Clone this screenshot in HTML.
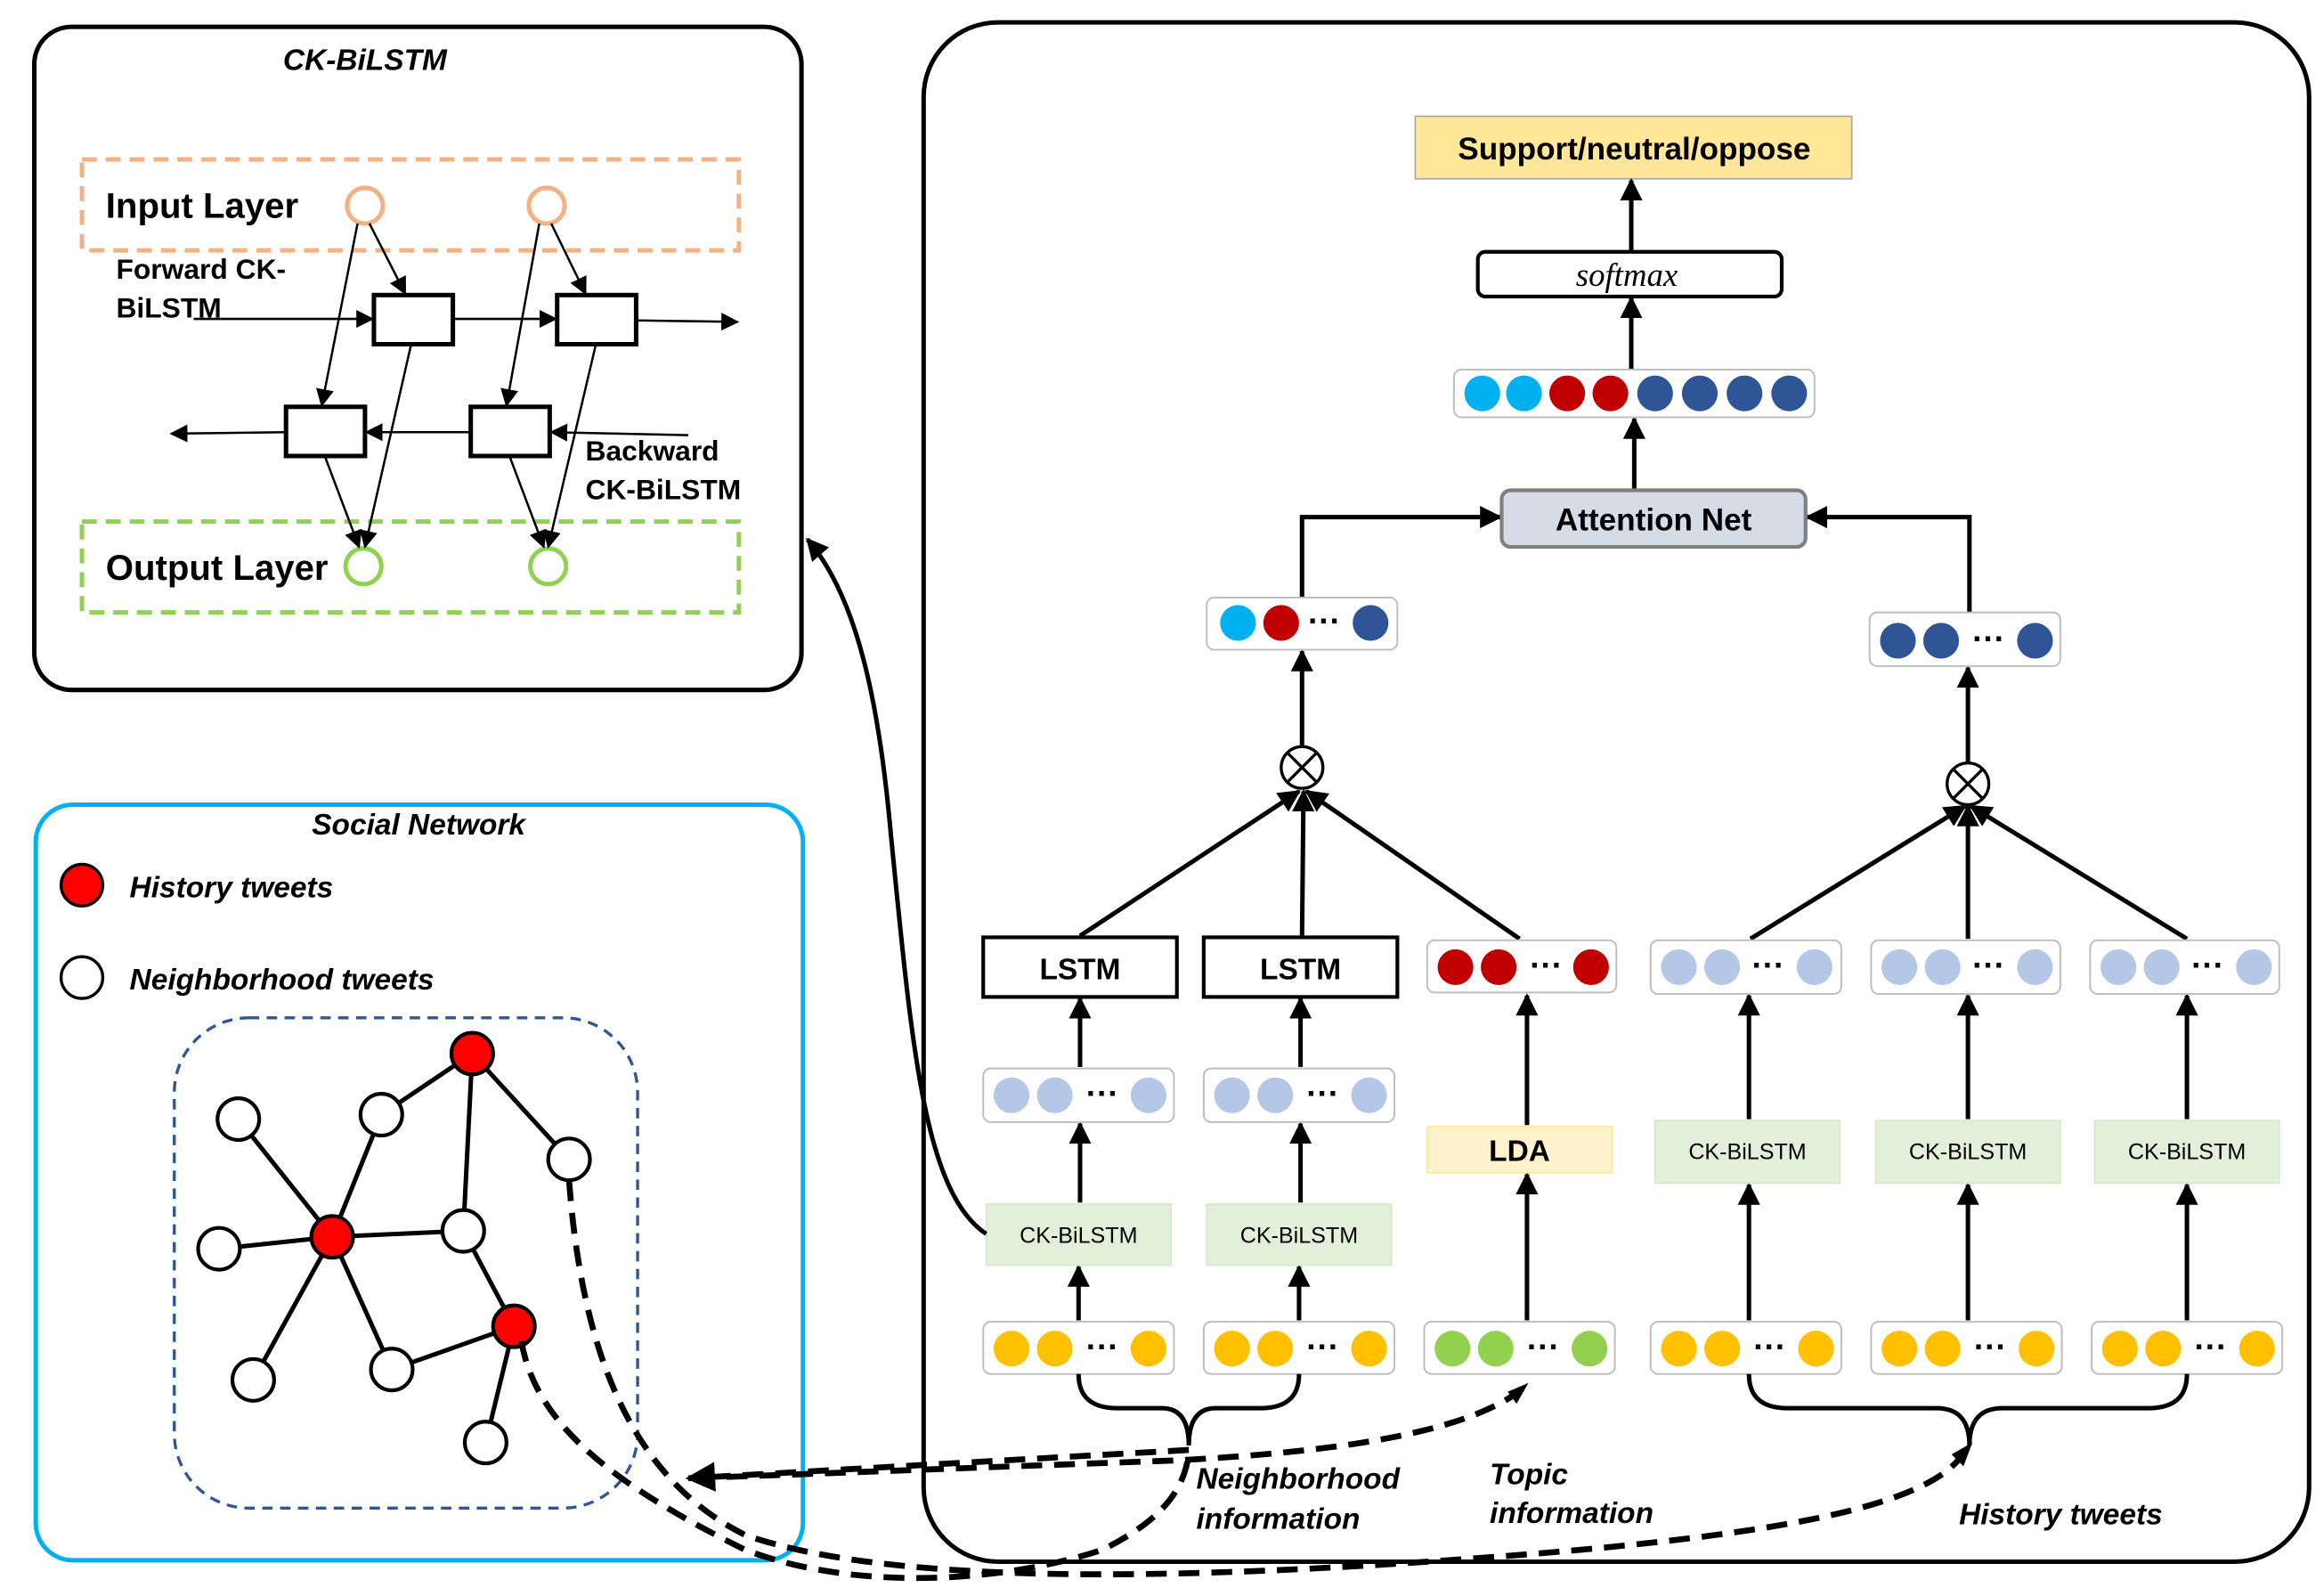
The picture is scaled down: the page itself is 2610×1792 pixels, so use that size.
<!DOCTYPE html>
<html><head><meta charset="utf-8"><style>
html,body{margin:0;padding:0;background:#fff}
svg{display:block}
text{font-family:"Liberation Sans",sans-serif}
</style></head><body>
<svg width="2610" height="1792" viewBox="0 0 1560 1071" preserveAspectRatio="none" xmlns="http://www.w3.org/2000/svg">
<defs>
<marker id="a" viewBox="0 0 10 10" refX="9" refY="5" markerWidth="5" markerHeight="5" orient="auto-start-reverse"><path d="M0,0L10,5L0,10z" fill="#000"/></marker>
<marker id="s" viewBox="0 0 10 10" refX="9" refY="5" markerWidth="8" markerHeight="8" orient="auto"><path d="M0,0L10,5L0,10z" fill="#000"/></marker>
</defs>
<!-- CK-BiLSTM box -->
<rect x="23" y="18" width="515" height="445" rx="25" fill="none" stroke="#000" stroke-width="3"/>
<text x="245" y="47" font-size="20" font-style="italic" font-weight="bold" text-anchor="middle">CK-BiLSTM</text>
<rect x="55" y="107" width="441" height="61" fill="none" stroke="#f4b183" stroke-width="3" stroke-dasharray="10 6"/>
<text x="71" y="146" font-size="24" font-weight="bold">Input Layer</text>
<circle cx="245" cy="138" r="12" fill="none" stroke="#f4b183" stroke-width="3"/>
<circle cx="367" cy="138" r="12" fill="none" stroke="#f4b183" stroke-width="3"/>
<text x="78" y="187" font-size="19" font-weight="bold">Forward CK-</text>
<text x="78" y="213" font-size="19" font-weight="bold">BiLSTM</text>
<text x="393" y="309" font-size="19" font-weight="bold">Backward</text>
<text x="393" y="335" font-size="19" font-weight="bold">CK-BiLSTM</text>
<rect x="55" y="350" width="441" height="61" fill="none" stroke="#92d050" stroke-width="3" stroke-dasharray="10 6"/>
<text x="71" y="389" font-size="24" font-weight="bold">Output Layer</text>
<circle cx="244" cy="380" r="12" fill="none" stroke="#92d050" stroke-width="3"/>
<circle cx="368" cy="380" r="12" fill="none" stroke="#92d050" stroke-width="3"/>
<g stroke="#000" stroke-width="1.5" fill="none" marker-end="url(#s)">
<line x1="130" y1="214" x2="250" y2="214"/><line x1="304" y1="214" x2="373" y2="214"/><line x1="427" y1="215" x2="495" y2="216"/>
<line x1="462" y1="292" x2="370" y2="290"/><line x1="316" y1="290" x2="246" y2="290"/><line x1="192" y1="290" x2="115" y2="291"/>
<line x1="240" y1="150" x2="216" y2="272"/><line x1="248" y1="150" x2="272" y2="197"/>
<line x1="362" y1="150" x2="340" y2="272"/><line x1="370" y1="150" x2="393" y2="197"/>
<line x1="276" y1="231" x2="245" y2="367"/><line x1="400" y1="231" x2="368" y2="367"/>
<line x1="218" y1="306" x2="241" y2="367"/><line x1="342" y1="306" x2="365" y2="367"/>
</g>
<g fill="#fff" stroke="#000" stroke-width="3">
<rect x="251" y="198" width="53" height="33"/><rect x="374" y="198" width="53" height="33"/>
<rect x="192" y="273" width="53" height="33"/><rect x="316" y="273" width="53" height="33"/>
</g>
<!-- Social network -->
<rect x="24" y="540" width="515" height="507" rx="25" fill="none" stroke="#00b0f0" stroke-width="3"/>
<text x="281" y="560" font-size="20" font-style="italic" font-weight="bold" text-anchor="middle">Social Network</text>
<circle cx="55" cy="594" r="14" fill="#f00" stroke="#000" stroke-width="2"/>
<text x="87" y="602" font-size="20" font-style="italic" font-weight="bold">History tweets</text>
<circle cx="55" cy="656" r="14" fill="#fff" stroke="#000" stroke-width="2"/>
<text x="87" y="664" font-size="20" font-style="italic" font-weight="bold">Neighborhood tweets</text>
<rect x="117" y="683" width="311" height="329" rx="50" fill="none" stroke="#2f5597" stroke-width="2" stroke-dasharray="7 5"/>
<g stroke="#000" stroke-width="3">
<line x1="317" y1="707" x2="256" y2="748"/><line x1="317" y1="707" x2="311" y2="826"/><line x1="317" y1="707" x2="382" y2="778"/>
<line x1="223" y1="830" x2="160" y2="751"/><line x1="223" y1="830" x2="256" y2="748"/><line x1="223" y1="830" x2="147" y2="838"/>
<line x1="223" y1="830" x2="311" y2="826"/><line x1="223" y1="830" x2="170" y2="926"/><line x1="223" y1="830" x2="263" y2="919"/>
<line x1="311" y1="826" x2="345" y2="890"/><line x1="345" y1="890" x2="263" y2="919"/><line x1="345" y1="890" x2="326" y2="968"/>
</g>
<g stroke="#000" stroke-width="2.5">
<circle cx="317" cy="707" r="14" fill="#f00"/><circle cx="223" cy="830" r="14" fill="#f00"/><circle cx="345" cy="890" r="14" fill="#f00"/>
<g fill="#fff"><circle cx="160" cy="751" r="14"/><circle cx="256" cy="748" r="14"/><circle cx="382" cy="778" r="14"/><circle cx="147" cy="838" r="14"/><circle cx="311" cy="826" r="14"/><circle cx="170" cy="926" r="14"/><circle cx="263" cy="919" r="14"/><circle cx="326" cy="968" r="14"/></g>
</g>
<!-- Right box -->
<rect x="620" y="15" width="930" height="1033" rx="50" fill="none" stroke="#000" stroke-width="3"/>
<rect x="950" y="78" width="293" height="42" fill="#ffe699" stroke="#a6a6a6"/>
<text x="1097" y="107" font-size="21" font-weight="bold" text-anchor="middle">Support/neutral/oppose</text>
<rect x="992" y="169" width="204" height="30" rx="5" fill="#fff" stroke="#000" stroke-width="2.5"/>
<text x="1092" y="192" font-size="22" font-style="italic" font-family="Liberation Serif" text-anchor="middle" style="font-family:'Liberation Serif',serif">softmax</text>
<g stroke="#000" stroke-width="3" fill="none" marker-end="url(#a)">
<line x1="1095" y1="168" x2="1095" y2="121"/><line x1="1095" y1="248" x2="1095" y2="200"/><line x1="1097" y1="328" x2="1097" y2="281"/>
<polyline points="874,403 874,347 1007,347"/><polyline points="1322,412 1322,347 1213,347"/>
<line x1="874" y1="501" x2="874" y2="437"/><line x1="1321" y1="512" x2="1321" y2="448"/>
<line x1="725" y1="628" x2="872" y2="531"/><line x1="874" y1="628" x2="875" y2="531"/><line x1="1020" y1="630" x2="877" y2="531"/>
<line x1="1175" y1="630" x2="1319" y2="541"/><line x1="1321" y1="630" x2="1321" y2="541"/><line x1="1468" y1="630" x2="1323" y2="541"/>
<line x1="725" y1="716" x2="725" y2="670"/><line x1="873" y1="716" x2="873" y2="670"/>
<line x1="725" y1="807" x2="725" y2="754"/><line x1="873" y1="807" x2="873" y2="754"/>
<line x1="1025" y1="755" x2="1025" y2="668"/><line x1="1174" y1="751" x2="1174" y2="668"/><line x1="1321" y1="751" x2="1321" y2="668"/><line x1="1468" y1="751" x2="1468" y2="668"/>
<line x1="724" y1="886" x2="724" y2="850"/><line x1="872" y1="886" x2="872" y2="850"/><line x1="1025" y1="886" x2="1025" y2="788"/>
<line x1="1174" y1="886" x2="1174" y2="795"/><line x1="1321" y1="886" x2="1321" y2="795"/><line x1="1468" y1="886" x2="1468" y2="795"/>
</g>
<rect x="1008" y="329" width="204" height="38" rx="6" fill="#d6dce5" stroke="#7f7f7f" stroke-width="2.5"/>
<text x="1110" y="356" font-size="21" font-weight="bold" text-anchor="middle">Attention Net</text>
<g stroke="#000" stroke-width="2" fill="#fff">
<circle cx="874" cy="515" r="14"/><circle cx="1321" cy="526" r="14"/>
</g>
<g stroke="#000" stroke-width="2"><path d="M864,505L884,525M884,505L864,525"/><path d="M1311,516L1331,536M1331,516L1311,536"/></g>
<!-- dot rows -->
<g stroke="#bfbfbf" stroke-width="1.2" fill="#fff">
<rect x="976" y="248" width="242" height="32" rx="5"/>
<rect x="810" y="401" width="128" height="35" rx="5"/><rect x="1255" y="411" width="128" height="36" rx="5"/>
<rect x="958" y="631" width="127" height="35" rx="5"/>
<rect x="1108" y="631" width="128" height="36" rx="5"/><rect x="1256" y="631" width="127" height="36" rx="5"/><rect x="1403" y="631" width="127" height="36" rx="5"/>
<rect x="660" y="717" width="128" height="36" rx="5"/><rect x="808" y="717" width="128" height="36" rx="5"/>
<rect x="660" y="887" width="128" height="35" rx="5"/><rect x="808" y="887" width="128" height="35" rx="5"/><rect x="956" y="887" width="128" height="35" rx="5"/>
<rect x="1108" y="887" width="128" height="35" rx="5"/><rect x="1256" y="887" width="128" height="35" rx="5"/><rect x="1404" y="887" width="128" height="35" rx="5"/>
</g>
<g>
<circle cx="995" cy="264" r="12" fill="#00b0f0"/><circle cx="1023" cy="264" r="12" fill="#00b0f0"/><circle cx="1052" cy="264" r="12" fill="#c00000"/><circle cx="1081" cy="264" r="12" fill="#c00000"/>
<circle cx="1111" cy="264" r="12" fill="#2f5597"/><circle cx="1141" cy="264" r="12" fill="#2f5597"/><circle cx="1171" cy="264" r="12" fill="#2f5597"/><circle cx="1201" cy="264" r="12" fill="#2f5597"/>
<circle cx="831" cy="418" r="12" fill="#00b0f0"/><circle cx="860" cy="418" r="12" fill="#c00000"/><circle cx="920" cy="418" r="12" fill="#2f5597"/>
<circle cx="1274" cy="430" r="12" fill="#2f5597"/><circle cx="1303" cy="430" r="12" fill="#2f5597"/><circle cx="1366" cy="430" r="12" fill="#2f5597"/>
<circle cx="977" cy="649" r="12" fill="#c00000"/><circle cx="1006" cy="649" r="12" fill="#c00000"/><circle cx="1068" cy="649" r="12" fill="#c00000"/>
<g fill="#b4c7e7">
<circle cx="1127" cy="649" r="12"/><circle cx="1156" cy="649" r="12"/><circle cx="1218" cy="649" r="12"/>
<circle cx="1275" cy="649" r="12"/><circle cx="1304" cy="649" r="12"/><circle cx="1366" cy="649" r="12"/>
<circle cx="1422" cy="649" r="12"/><circle cx="1451" cy="649" r="12"/><circle cx="1513" cy="649" r="12"/>
<circle cx="679" cy="735" r="12"/><circle cx="708" cy="735" r="12"/><circle cx="771" cy="735" r="12"/>
<circle cx="827" cy="735" r="12"/><circle cx="856" cy="735" r="12"/><circle cx="919" cy="735" r="12"/>
</g>
<g fill="#ffc000">
<circle cx="679" cy="905" r="12"/><circle cx="708" cy="905" r="12"/><circle cx="771" cy="905" r="12"/>
<circle cx="827" cy="905" r="12"/><circle cx="856" cy="905" r="12"/><circle cx="919" cy="905" r="12"/>
<circle cx="1127" cy="905" r="12"/><circle cx="1156" cy="905" r="12"/><circle cx="1219" cy="905" r="12"/>
<circle cx="1275" cy="905" r="12"/><circle cx="1304" cy="905" r="12"/><circle cx="1367" cy="905" r="12"/>
<circle cx="1423" cy="905" r="12"/><circle cx="1452" cy="905" r="12"/><circle cx="1515" cy="905" r="12"/>
</g>
<g fill="#92d050"><circle cx="975" cy="905" r="12"/><circle cx="1004" cy="905" r="12"/><circle cx="1067" cy="905" r="12"/></g>
</g>
<g font-size="22" font-weight="bold" text-anchor="middle">
<text x="889" y="424">···</text><text x="1335" y="436">···</text><text x="1038" y="655">···</text>
<text x="1187" y="655">···</text><text x="1335" y="655">···</text><text x="1482" y="655">···</text>
<text x="740" y="741">···</text><text x="888" y="741">···</text>
<text x="740" y="911">···</text><text x="888" y="911">···</text><text x="1036" y="911">···</text>
<text x="1188" y="911">···</text><text x="1336" y="911">···</text><text x="1484" y="911">···</text>
</g>
<g fill="#fff" stroke="#000" stroke-width="2.5">
<rect x="660" y="629" width="130" height="40"/><rect x="808" y="629" width="130" height="40"/>
</g>
<text x="725" y="657" font-size="20" font-weight="bold" text-anchor="middle">LSTM</text>
<text x="873" y="657" font-size="20" font-weight="bold" text-anchor="middle">LSTM</text>
<rect x="958" y="756" width="124" height="31" fill="#fff2cc" stroke="#ffe699"/>
<text x="1020" y="779" font-size="20" font-weight="bold" text-anchor="middle">LDA</text>
<g fill="#e2f0d9" stroke="#d5e8c8">
<rect x="662" y="808" width="124" height="41"/><rect x="810" y="808" width="124" height="41"/>
<rect x="1111" y="752" width="124" height="42"/><rect x="1259" y="752" width="124" height="42"/><rect x="1406" y="752" width="124" height="42"/>
</g>
<g font-size="15" text-anchor="middle">
<text x="724" y="834">CK-BiLSTM</text><text x="872" y="834">CK-BiLSTM</text>
<text x="1173" y="778">CK-BiLSTM</text><text x="1321" y="778">CK-BiLSTM</text><text x="1468" y="778">CK-BiLSTM</text>
</g>
<!-- braces -->
<g fill="none" stroke="#000" stroke-width="3">
<path d="M724,922 Q724,945 750,945 L780,945 Q798,945 798,970 Q798,945 816,945 L846,945 Q872,945 872,922"/>
<path d="M1174,922 Q1174,945 1200,945 L1300,945 Q1322,945 1322,970 Q1322,945 1344,945 L1442,945 Q1468,945 1468,922"/>
</g>
<!-- dashed -->
<g fill="none" stroke="#000" stroke-width="4" stroke-dasharray="14 8">
<path d="M798,973 L462,992" marker-end="url(#a)"/>
<path d="M1022,932 C980,965 880,975 790,980 C650,985 520,990 462,992"/>
<path d="M382,792 C390,900 420,990 500,1030 C600,1065 800,1060 1000,1045 C1200,1030 1300,1010 1320,972"/>
<path d="M350,900 C360,960 420,1000 500,1040 C580,1070 680,1060 740,1040 C780,1020 795,1000 798,975"/>
</g>
<path d="M1026,928 L1012,934 L1018,942 Z" fill="#000"/>
<path d="M1324,968 L1310,976 L1318,984 Z" fill="#000"/>
<!-- curved arrow -->
<path d="M662,828 C620,800 612,700 598,560 C590,470 575,400 542,362" fill="none" stroke="#000" stroke-width="3" marker-end="url(#a)"/>
<g font-size="20" font-style="italic" font-weight="bold">
<text x="803" y="999">Neighborhood</text><text x="803" y="1026">information</text>
<text x="1000" y="996">Topic</text><text x="1000" y="1022">information</text>
<text x="1315" y="1023">History tweets</text>
</g>
</svg>
</body></html>
